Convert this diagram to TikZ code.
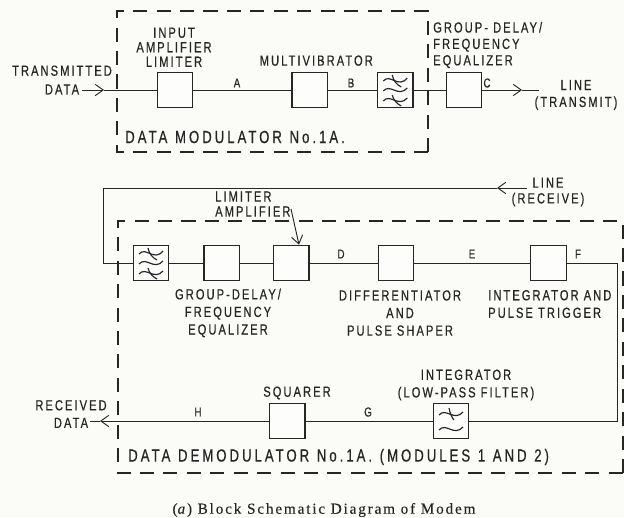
\documentclass[tikz,border=0pt]{standalone}
\usepackage{fontspec}
\setmainfont{Liberation Sans}[FakeStretch=0.76,LetterSpace=14,FakeBold=0.5]
\newfontfamily\bigfont{Liberation Sans}[FakeStretch=0.75,LetterSpace=17,FakeBold=0.5,WordSpace=1.15]
\newfontfamily\captionfont{Liberation Serif}[LetterSpace=12,FakeBold=0.2]
\usepackage{xcolor}
\usetikzlibrary{arrows.meta, positioning}

\begin{document}
\begin{tikzpicture}[x=0.3mm, y=-0.3mm, >={Straight Barb[length=2.4mm,width=3.4mm]}, black!85]

% --- Style Definitions ---
% Blocks
\tikzstyle{block_box}=[rectangle, draw, line width=1.1pt, fill=white!60!paper, minimum size=1.06cm, inner sep=0pt]
\tikzstyle{dash_box}=[line width=0.9pt, dash pattern=on 12pt off 8pt]
% Lines
\tikzstyle{sig_line}=[line width=0.8pt]
\tikzstyle{wave_line}=[line width=1pt]
% Text
\tikzstyle{small_text}=[font=\fontsize{12.5}{15}\selectfont, align=center, inner sep=0pt]
\tikzstyle{tight_text}=[font=\fontsize{12.5}{12.4}\selectfont, align=center, inner sep=0pt]
\tikzstyle{left_text}=[font=\fontsize{12.5}{14}\selectfont, align=left, inner sep=0pt, anchor=west]
\tikzstyle{big_text}=[font=\bigfont\fontsize{15}{16}\selectfont, inner sep=0pt, anchor=west]
\tikzstyle{sig_text}=[font=\fontsize{11}{12}\selectfont, inner sep=0pt]
\definecolor{paper}{HTML}{FBFBF8}

% Filter symbols
\tikzset{
  band_icon/.pic={
    \draw[wave_line] (-12,-9) .. controls (-5,-17) and (3,-1) .. (12,-12);
    \draw[wave_line] (-3,-15) .. controls (-2,-9) and (2,-5) .. (6,-3);
    \draw[wave_line] (-12,1) .. controls (-5,-7) and (3,8) .. (12,-2);
    \draw[wave_line] (-12,11) .. controls (-5,3) and (3,18) .. (12,8);
    \draw[wave_line] (-3,5) .. controls (-2,10) and (2,14) .. (6,16);
  },
  low_icon/.pic={
    \draw[wave_line] (-12,-6) .. controls (-5,-14) and (3,1) .. (12,-9);
    \draw[wave_line] (-2,-13) .. controls (-1,-8) and (1,-3) .. (3,-1);
    \draw[wave_line] (-12,9) .. controls (-5,1) and (3,16) .. (12,6);
  }
}

\useasboundingbox[fill=paper] (0,0) rectangle (624,517);

% --- Define Nodes ---

% Modulator
\node[block_box] (Inp) at (175,90) {};
\node[block_box, right=2.94cm of Inp] (Multi) {};
\node[block_box, right=1.47cm of Multi] (FltT) {};
\node[block_box, right=0.96cm of FltT] (EqT) {};
\pic at (FltT.center) {band_icon};

% Demodulator, upper row
\node[block_box] (FltR) at (151,263) {};
\node[block_box, right=1.02cm of FltR] (EqR) {};
\node[block_box, right=0.99cm of EqR] (Lim) {};
\node[block_box, right=2.04cm of Lim] (Diff) {};
\node[block_box, right=3.48cm of Diff] (Intg) {};
\pic at (FltR.center) {band_icon};

% Demodulator, lower row
\node[block_box] (LowP) at (451,421) {};
\node[block_box, left=3.81cm of LowP] (Sq) {};
\pic at (LowP.center) {low_icon};

% Free ends of the lines
\coordinate (InTail) at (82,90);
\coordinate (InTip) at (104,90);
\coordinate (OutTip) at (522,90);
\coordinate (OutEnd) at (539,90);
\coordinate (RxTail) at (527,188);
\coordinate (RxTip) at (497,188);
\coordinate (RxCorner) at (103,188);
\coordinate (RxDown) at (103,263);
\coordinate (FOut) at (617,263);
\coordinate (FDown) at (617,421);
\coordinate (DataTip) at (100,421);
\coordinate (DataEnd) at (90,421);

% --- Dashed Enclosures ---
\draw[dash_box] (428,152) -- (428,11) -- (117,11) -- (117,152) -- cycle;
\draw[dash_box] (623,473) -- (623,221) -- (118,221) -- (118,473) -- cycle;

% --- Draw Connections ---

% 1. Modulator chain
\draw[sig_line, ->] (InTail) -- (InTip);
\draw[sig_line] (InTip) -- (Inp);
\draw[sig_line] (Inp) -- (Multi);
\draw[sig_line] (Multi) -- (FltT);
\draw[sig_line] (FltT) -- (EqT);
\draw[sig_line, ->] (EqT) -- (OutTip);
\draw[sig_line] (OutTip) -- (OutEnd);

% 2. Receive line into the demodulator
\draw[sig_line, ->] (RxTail) -- (RxTip);
\draw[sig_line] (RxTip) -- (RxCorner) -- (RxDown) -- (FltR);
\draw[sig_line] (FltR) -- (EqR);
\draw[sig_line] (EqR) -- (Lim);
\draw[sig_line] (Lim) -- (Diff);
\draw[sig_line] (Diff) -- (Intg);
\draw[sig_line] (Intg) -- (FOut) -- (FDown) -- (LowP);
\draw[sig_line] (LowP) -- (Sq);
\draw[sig_line, ->] (Sq) -- (DataTip);
\draw[sig_line] (DataTip) -- (DataEnd);

% --- Labels ---
\node[small_text] (TxtIn) at (62,80) {TRANSMITTED\\[1pt]DATA};
\node[tight_text, above=0.14cm of Inp, xshift=-0.03cm] (TxtInp) {INPUT\\AMPLIFIER\\LIMITER};
\node[small_text, above=0.17cm of Multi, xshift=0.2cm] (TxtMulti) {MULTIVIBRATOR};
\node[left_text] (TxtEqT) at (433,45) {GROUP- DELAY/\\FREQUENCY\\EQUALIZER};
\node[tight_text] (TxtOut) at (576,95) {LINE\\[2pt](TRANSMIT)};
\node[big_text] (TxtMod) at (125,137) {DATA MODULATOR No.1A.};

\node[sig_text] (SigA) at (237,83) {A};
\node[sig_text] (SigB) at (351,83) {B};
\node[sig_text] (SigC) at (487,83) {C};
\node[sig_text] (SigD) at (341,254) {D};
\node[sig_text] (SigE) at (472,254) {E};
\node[sig_text] (SigF) at (578,254) {F};
\node[sig_text] (SigG) at (368,412) {G};
\node[sig_text] (SigH) at (198,412) {H};

\node[tight_text] (TxtRx) at (548,192) {LINE\\[1pt](RECEIVE)};
\node[left_text, font=\fontsize{12.5}{12.8}\selectfont] (TxtLim) at (215,204) {LIMITER\\AMPLIFIER};
\coordinate (LimTail) at (291,209);
\draw[sig_line, ->] (LimTail) -- (Lim.north -| 299,0);

\node[small_text] (TxtEqR) at (228,313) {GROUP-DELAY/\\FREQUENCY\\EQUALIZER};
\node[small_text] (TxtDiff) at (400,313) {DIFFERENTIATOR\\AND\\PULSE SHAPER};
\node[left_text, font=\fontsize{12.5}{15}\selectfont] (TxtIntg) at (488,304) {INTEGRATOR AND\\PULSE TRIGGER};
\node[small_text] (TxtSq) at (297,393) {SQUARER};
\node[small_text] (TxtLow) at (466,385) {INTEGRATOR\\(LOW-PASS FILTER)};
\node[small_text] (TxtData) at (71,414) {RECEIVED\\DATA};
\node[big_text] (TxtDem) at (128,457) {DATA DEMODULATOR No.1A. (MODULES 1 AND 2)};

\node[font=\captionfont\fontsize{13}{14}\selectfont, inner sep=0pt] (Cap) at (324,510) {(\textit{a}) Block Schematic Diagram of Modem};

\end{tikzpicture}
\end{document}
